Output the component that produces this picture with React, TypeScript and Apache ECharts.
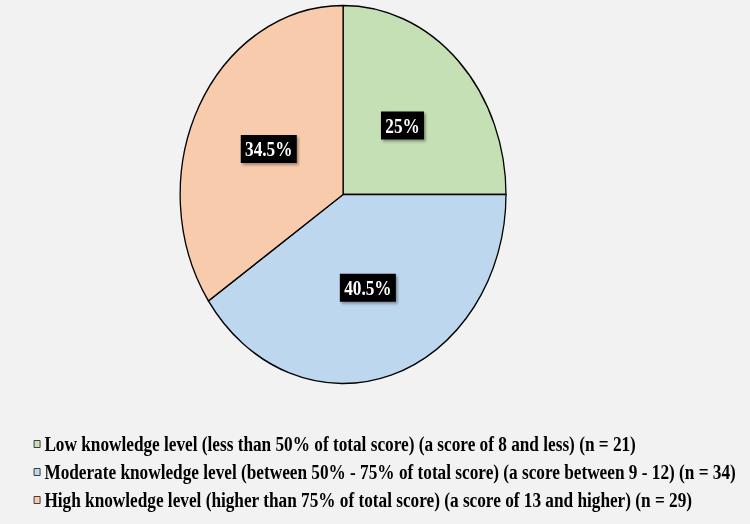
import React, { useEffect, useRef } from "react";
import * as echarts from "echarts";

const categories = [
  "Low knowledge level (less than 50% of total score) (a score of 8 and less) (n = 21)",
  "Moderate knowledge level (between 50% - 75% of total score) (a score between 9 - 12) (n = 34)",
  "High knowledge level (higher than 75% of total score) (a score of 13 and higher) (n = 29)",
];
const counts = [21, 34, 29];
const colors = ["#c5e0b4", "#bdd7ee", "#f8cbad"];

const SCALE_X = 0.862;
const INNER_W = Math.round(750 / SCALE_X);

export default function App() {
  const ref = useRef<HTMLDivElement>(null);
  useEffect(() => {
    if (!ref.current) return;
    const chart = echarts.init(ref.current, undefined, { renderer: "svg" });
    const total = counts.reduce((a, b) => a + b, 0);
    chart.setOption({
      animation: false,
      backgroundColor: "#f2f2f2",
      legend: {
        orient: "vertical",
        left: 34,
        top: 429,
        icon: "rect",
        itemWidth: 7,
        itemHeight: 7,
        itemGap: 8,
        itemStyle: { borderColor: "#333", borderWidth: 1 },
        textStyle: {
          fontFamily: "Liberation Serif",
          fontWeight: "bold",
          fontSize: 20,
          lineHeight: 20,
          color: "#000",
        },
        data: categories,
      },
      series: [
        {
          type: "pie",
          center: [398, 194.5],
          radius: 189,
          startAngle: 90,
          clockwise: true,
          itemStyle: { borderColor: "#000", borderWidth: 1.5 },
          label: {
            show: true,
            position: "inside",
            formatter: (p: any) => {
              const v = Math.round((p.value / total) * 1000) / 10;
              return v + "%";
            },
            backgroundColor: "#000",
            color: "#fff",
            fontFamily: "Liberation Serif",
            fontWeight: "bold",
            fontSize: 20,
            padding: [5, 5, 3, 5],
            shadowColor: "rgba(0,0,0,0.35)",
            shadowBlur: 3,
            shadowOffsetX: 2,
            shadowOffsetY: 2,
          },
          labelLine: { show: false },
          emphasis: { disabled: true },
          data: categories.map((name, i) => ({
            name,
            value: counts[i],
            itemStyle: { color: colors[i] },
          })),
        },
      ],
    });
    return () => chart.dispose();
  }, []);
  return (
    <div
      style={{
        position: "fixed",
        left: 0,
        top: 0,
        width: 750,
        height: 524,
        overflow: "hidden",
        background: "#f2f2f2",
      }}
    >
      <div
        ref={ref}
        style={{
          width: INNER_W,
          height: 524,
          transform: `scaleX(${SCALE_X})`,
          transformOrigin: "0 0",
        }}
      />
    </div>
  );
}
